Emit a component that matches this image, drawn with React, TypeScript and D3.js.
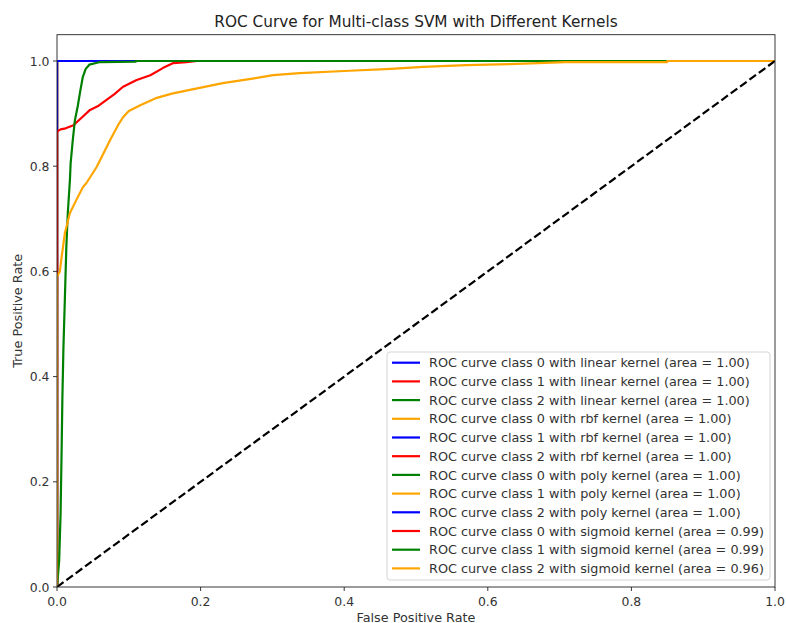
import React from 'react';
import * as d3 from 'd3';

// ROC curves of the sigmoid kernel (the ones that are not perfect)
const sigmoid0 = [[0,0],[0,0.866],[0.005,0.87],[0.012,0.872],[0.023,0.878],[0.035,0.893],[0.046,0.907],[0.058,0.915],[0.069,0.926],[0.08,0.937],[0.092,0.951],[0.111,0.964],[0.13,0.973],[0.148,0.987],[0.162,0.996],[0.18,0.998],[0.195,1],[1,1]];
const sigmoid1 = [[0,0],[0.003,0.05],[0.005,0.14],[0.0065,0.266],[0.0075,0.36],[0.009,0.457],[0.011,0.55],[0.013,0.646],[0.015,0.71],[0.018,0.774],[0.019,0.806],[0.022,0.85],[0.025,0.888],[0.029,0.915],[0.032,0.94],[0.036,0.97],[0.04,0.985],[0.045,0.993],[0.06,0.998],[0.11,0.999],[0.11,1],[1,1]];
const sigmoid2 = [[0,0],[0,0.59],[0.004,0.6],[0.0065,0.628],[0.011,0.673],[0.018,0.711],[0.027,0.736],[0.036,0.76],[0.041,0.768],[0.055,0.798],[0.065,0.825],[0.074,0.85],[0.085,0.878],[0.092,0.893],[0.1,0.905],[0.116,0.916],[0.139,0.93],[0.16,0.938],[0.185,0.945],[0.231,0.958],[0.27,0.966],[0.301,0.973],[0.338,0.977],[0.4,0.981],[0.465,0.985],[0.51,0.989],[0.57,0.992],[0.63,0.994],[0.67,0.996],[0.708,0.998],[0.85,0.998],[0.85,1],[1,1]];
const perfect = [[0,0],[0,1],[1,1]];

const kernels = ['linear', 'rbf', 'poly', 'sigmoid'];
const colors = ['blue', 'red', 'green', 'orange'];
const areas = [[1.0,1.0,1.0],[1.0,1.0,1.0],[1.0,1.0,1.0],[0.99,0.99,0.96]];
const sigmoidCurves = [sigmoid0, sigmoid1, sigmoid2];
const ticks = [0, 0.2, 0.4, 0.6, 0.8, 1.0];

const series = kernels.flatMap((k, ki) => [0,1,2].map(c => ({
  label: `ROC curve class ${c} with ${k} kernel (area = ${areas[ki][c].toFixed(2)})`,
  color: colors[(ki * 3 + c) % 4],
  points: k === 'sigmoid' ? sigmoidCurves[c] : perfect,
})));

const W = 786, H = 623;
const x = d3.scaleLinear().domain([0, 1]).range([57, 775]);
const y = d3.scaleLinear().domain([0, 1.05]).range([587, 587 - 526 * 1.05]);
const font = 'DejaVu Sans, sans-serif';

export default function App() {
  const line = d3.line<number[]>().x(d => x(d[0])).y(d => y(d[1]));
  const [x0, x1] = x.range();
  const [y0, y1] = y.range();
  const lg = { x: 387, y: 352, w: 383, h: 228, row: 18.7 };
  return (
    <svg width={W} height={H} style={{ position: 'absolute', left: 0, top: 0, background: '#fff' }} fontFamily={font}>
      <defs>
        <clipPath id="plot"><rect x={x0} y={y1} width={x1 - x0} height={y0 - y1} /></clipPath>
      </defs>
      <g clipPath="url(#plot)" fill="none" strokeWidth={2.2} strokeLinejoin="round">
        {series.map((s, i) => <path key={i} d={line(s.points as number[][]) || ''} stroke={s.color} />)}
        <path d={line([[0,0],[1,1]]) || ''} stroke="#000" strokeDasharray="8.1,3.5" />
      </g>
      <rect x={x0} y={y1} width={x1 - x0} height={y0 - y1} fill="none" stroke="#222" strokeWidth={0.9} />
      {ticks.map(t => (
        <g key={'x' + t}>
          <line x1={x(t)} x2={x(t)} y1={y0} y2={y0 + 4} stroke="#222" strokeWidth={0.9} />
          <text x={x(t)} y={y0 + 18.5} textAnchor="middle" fontSize={12.4} fill="#333">{t.toFixed(1)}</text>
        </g>
      ))}
      {ticks.map(t => (
        <g key={'y' + t}>
          <line x1={x0 - 4} x2={x0} y1={y(t)} y2={y(t)} stroke="#222" strokeWidth={0.9} />
          <text x={x0 - 7.5} y={y(t) + 4.5} textAnchor="end" fontSize={12.4} fill="#333">{t.toFixed(1)}</text>
        </g>
      ))}
      <text x={(x0 + x1) / 2} y={27} textAnchor="middle" fontSize={15.3} fill="#222">ROC Curve for Multi-class SVM with Different Kernels</text>
      <text x={(x0 + x1) / 2} y={621.5} textAnchor="middle" fontSize={12.8} fill="#333">False Positive Rate</text>
      <text transform={`translate(21.5,${(y0 + y1) / 2}) rotate(-90)`} textAnchor="middle" fontSize={12.8} fill="#333">True Positive Rate</text>
      <g>
        <rect x={lg.x} y={lg.y} width={lg.w} height={lg.h} rx={3} fill="#fff" fillOpacity={0.8} stroke="#d0d0d0" strokeWidth={0.9} />
        {series.map((s, i) => {
          const cy = lg.y + 10.7 + i * lg.row;
          return (
            <g key={i}>
              <line x1={lg.x + 5} x2={lg.x + 33} y1={cy} y2={cy} stroke={s.color} strokeWidth={2.2} />
              <text x={lg.x + 42} y={cy + 4.6} fontSize={12.8} fill="#333">{s.label}</text>
            </g>
          );
        })}
      </g>
    </svg>
  );
}
